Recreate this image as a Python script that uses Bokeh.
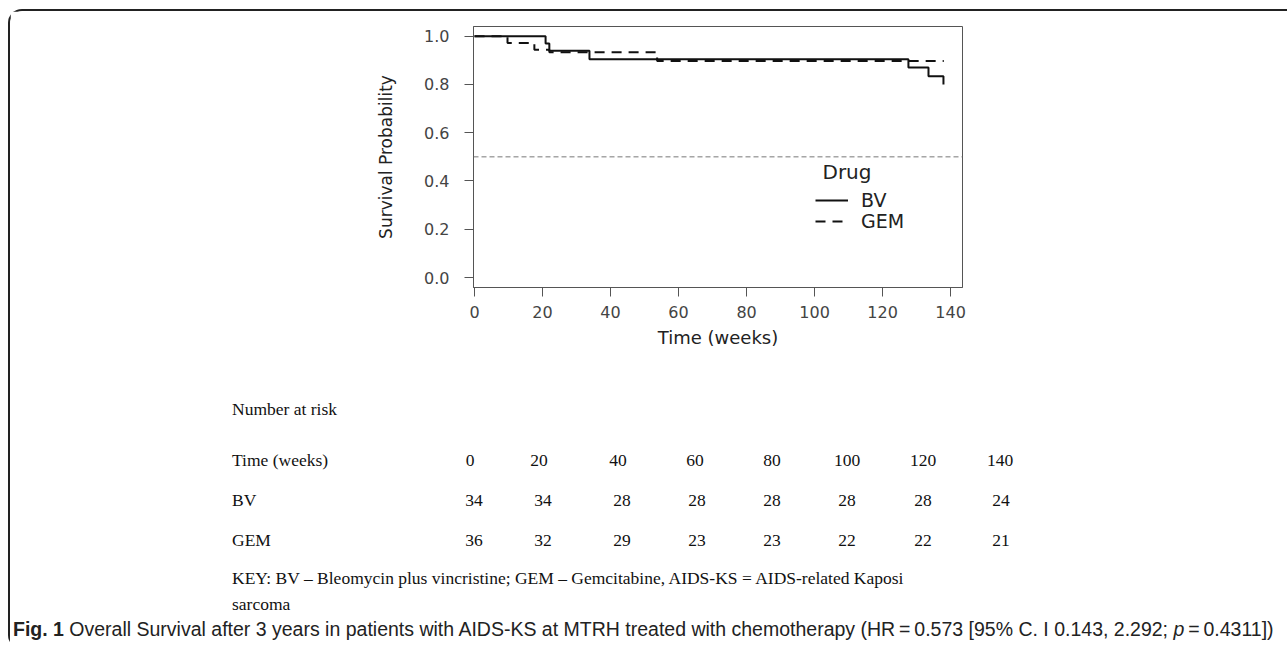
from bokeh.plotting import figure
from bokeh.layouts import column
from bokeh.models import (Range1d, FixedTicker, PrintfTickFormatter, Span, Label,
                          Legend, LegendItem, Div)
from bokeh.embed import file_html
from bokeh.resources import INLINE

# ---------------- data ----------------
bv_time = [0.0, 20.9, 22.0, 33.8, 127.6, 133.5, 137.9]
bv_surv = [1.000, 0.970, 0.940, 0.905, 0.870, 0.834, 0.800]
gem_time = [0.0, 9.7, 17.6, 22.0, 53.7, 138.0]
gem_surv = [1.000, 0.972, 0.944, 0.934, 0.897, 0.897]
median_level = 0.5

x_ticks = [0, 20, 40, 60, 80, 100, 120, 140]
y_ticks = [0.0, 0.2, 0.4, 0.6, 0.8, 1.0]

groups = ["BV", "GEM"]
risk_times = [0, 20, 40, 60, 80, 100, 120, 140]
risk_bv = [34, 34, 28, 28, 28, 28, 28, 24]
risk_gem = [36, 32, 29, 23, 23, 22, 22, 21]

table_title = "Number at risk"
time_row_label = "Time (weeks)"
key_line1 = "KEY: BV \u2013 Bleomycin plus vincristine; GEM \u2013 Gemcitabine, AIDS-KS = AIDS-related Kaposi"
key_line2 = "sarcoma"
cap_bold = "Fig. 1"
cap_main = " Overall Survival after 3 years in patients with AIDS-KS at MTRH treated with chemotherapy (HR\u2009=\u20090.573 [95% C. I 0.143, 2.292; "
cap_ital = "p"
cap_end = "\u2009=\u20090.4311])"

# ---------------- layout (page pixels) ----------------
OX, OY = 10, 11           # content origin inside the rounded border
CW = 1287 - OX            # content width
H_TOP = 359
H_BOT = 638 - H_TOP
FL, FR, FT, FB = 473, 962, 26, 287   # plot frame in page pixels

p = figure(frame_width=FR - FL, frame_height=FB - FT,
           min_border_left=FL - OX, min_border_right=CW - (FR - OX),
           min_border_top=FT - OY, min_border_bottom=H_TOP - (FB - OY),
           x_range=Range1d(-0.3, 143.5), y_range=Range1d(-0.0414, 1.0402),
           output_backend="svg", toolbar_location=None)

p.background_fill_color = "white"
p.border_fill_color = "white"
p.outline_line_color = "#555555"
p.outline_line_width = 1
p.xgrid.visible = False
p.ygrid.visible = False

p.xaxis.ticker = FixedTicker(ticks=x_ticks)
p.yaxis.ticker = FixedTicker(ticks=y_ticks)
p.yaxis.formatter = PrintfTickFormatter(format="%.1f")
for ax in (p.xaxis, p.yaxis):
    ax.axis_line_color = "#555555"
    ax.major_tick_line_color = "#555555"
    ax.major_tick_out = 9
    ax.major_tick_in = 0
    ax.minor_tick_line_color = None
    ax.major_label_text_font = "DejaVu Sans"
    ax.major_label_text_font_size = "16px"
    ax.major_label_text_color = "#444444"
    ax.axis_label_text_font = "DejaVu Sans"
    ax.axis_label_text_font_style = "normal"
    ax.axis_label_text_color = "#222222"
p.yaxis.major_label_standoff = 15
p.xaxis.major_label_standoff = 9
p.yaxis.axis_label = "Survival Probability"
p.yaxis.axis_label_text_font_size = "17px"
p.yaxis.axis_label_standoff = 25
p.xaxis.axis_label = "Time (weeks)"
p.xaxis.axis_label_text_font_size = "18px"
p.xaxis.axis_label_standoff = 6

p.add_layout(Span(location=median_level, dimension="width", line_color="#777777",
                  line_width=1, line_dash="5 3"))

r_bv = p.step(bv_time, bv_surv, mode="after", line_color="#111111", line_width=2)
r_gem = p.step(gem_time, gem_surv, mode="after", line_color="#111111", line_width=2,
               line_dash="10 7")

leg_rows_y = [201, 222]      # page y of the legend rows (centres)
for lab, rend, ry in zip(groups, [r_bv, r_gem], leg_rows_y):
    p.add_layout(Legend(items=[LegendItem(label=lab, renderers=[rend])],
                        location=(815 - FL, FB - (ry + 10)), orientation="vertical",
                        padding=0, margin=0, spacing=0, glyph_width=33, glyph_height=18,
                        label_standoff=13, label_text_font="DejaVu Sans",
                        label_text_font_size="19px", label_text_color="#222222",
                        label_height=18,
                        border_line_alpha=0, background_fill_alpha=0))
p.add_layout(Label(x=822 - FL, y=FB - 171, x_units="screen", y_units="screen", text="Drug",
                   text_font="DejaVu Sans", text_font_size="20px", text_color="#222222",
                   text_baseline="middle", text_align="left"))

# ---------------- lower panel: number at risk table + caption (HTML text) ----------------
BX, BY = OX, OY + H_TOP     # page position of the lower panel's top-left corner
serif = "'Liberation Serif', 'Times New Roman', serif"
sans = "'Liberation Sans', Arial, sans-serif"
row_left = 232
head_cx = [470, 539, 618, 695, 772, 847, 923, 1000]
cell_cx = [474, 543, 622, 697, 772, 847, 923, 1001]
row_y = {"title": 409, "time": 460, "BV": 500, "GEM": 540, "key1": 578, "key2": 604}
parts = []


def put(html, x, cy, align="left", font=serif, size=17.5, color="#111111", box=60):
    lh = round(size * 1.25)
    top = cy - lh / 2 - BY
    if align == "center":
        left = x - box / 2 - BX
        extra = f"width:{box}px;text-align:center;"
    else:
        left = x - BX
        extra = ""
    parts.append(
        f'<div style="position:absolute;left:{left:.1f}px;top:{top:.1f}px;{extra}'
        f'white-space:nowrap;font-family:{font};font-size:{size}px;line-height:{lh}px;'
        f'color:{color};">{html}</div>')


put(table_title, row_left, row_y["title"])
put(time_row_label, row_left, row_y["time"])
for t, cx in zip(risk_times, head_cx):
    put(str(t), cx, row_y["time"], align="center")
put(groups[0], row_left, row_y["BV"])
for n, cx in zip(risk_bv, cell_cx):
    put(str(n), cx, row_y["BV"], align="center")
put(groups[1], row_left, row_y["GEM"])
for n, cx in zip(risk_gem, cell_cx):
    put(str(n), cx, row_y["GEM"], align="center")
put(key_line1, row_left, row_y["key1"])
put(key_line2, row_left, row_y["key2"])
put(f"<b>{cap_bold}</b>{cap_main}<i>{cap_ital}</i>{cap_end}", 13, 629,
    font=sans, size=19.5, color="#222222")

panel = Div(text=f'<div style="position:relative;width:{CW}px;height:{H_BOT}px;'
                 f'overflow:hidden;background:white;">' + "".join(parts) + "</div>",
            width=CW, height=H_BOT, margin=0)

# ---------------- rounded frame around the figure panel ----------------
lay = column(p, panel, spacing=0, margin=0, styles={
    "margin-left": "8px", "margin-top": "9px",
    "border-left": "2px solid #222222", "border-top": "2px solid #222222",
    "border-top-left-radius": "14px", "border-bottom-left-radius": "14px",
})

open("out.html", "w").write(file_html(lay, INLINE))
